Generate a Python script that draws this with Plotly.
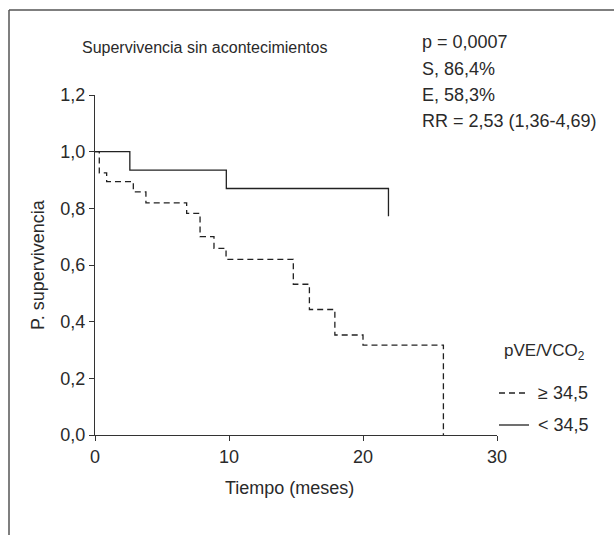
import plotly.graph_objects as go

# Data
t_low = [0, 2.6, 9.8, 21.9]                      # pVE/VCO2 < 34.5
s_low = [1.0, 0.935, 0.870, 0.772]
t_high = [0, 0.32, 0.87, 2.86, 3.8, 6.84, 7.84, 8.88, 9.78, 14.8, 16.0, 17.9, 20.0, 26.0]
s_high = [1.0, 0.925, 0.894, 0.858, 0.819, 0.782, 0.70, 0.659, 0.62, 0.532, 0.443, 0.353, 0.317, 0.0]
x_ticks = [0, 10, 20, 30]
y_ticks = [0.0, 0.2, 0.4, 0.6, 0.8, 1.0, 1.2]
y_tick_labels = ["0,0", "0,2", "0,4", "0,6", "0,8", "1,0", "1,2"]
stats_lines = ["p = 0,0007", "S, 86,4%", "E, 58,3%", "RR = 2,53 (1,36-4,69)"]

W, H = 614, 535
L, R, T, B = 95, 117, 95, 100
PW, PH = W - L - R, H - T - B
FONT = "Liberation Sans Narrow, Arial Narrow, Liberation Sans, Arial, sans-serif"
TC = "#2a2a2a"
LC = "#333333"

def px(x):
    return (x - L) / PW

def py(y):
    return (H - B - y) / PH

fig = go.Figure()
fig.add_trace(go.Scatter(x=t_high, y=s_high, mode="lines", line_shape="hv",
                         line=dict(color="#222", width=1.3, dash="6px,4px"),
                         showlegend=False, hoverinfo="skip"))
fig.add_trace(go.Scatter(x=t_low, y=s_low, mode="lines", line_shape="hv",
                         line=dict(color="#222", width=1.3),
                         showlegend=False, hoverinfo="skip"))

shapes = []
# outer frame (left and top only)
shapes.append(dict(type="line", xref="paper", yref="paper", x0=px(9), x1=px(9), y0=py(540), y1=py(10),
                   line=dict(color="#555", width=1.5)))
shapes.append(dict(type="line", xref="paper", yref="paper", x0=px(9), x1=px(620), y0=py(10), y1=py(10),
                   line=dict(color="#555", width=1.5)))
# legend samples
shapes.append(dict(type="line", xref="paper", yref="paper", x0=px(499), x1=px(529), y0=py(393), y1=py(393),
                   line=dict(color="#222", width=1.3, dash="6px,4px")))
shapes.append(dict(type="line", xref="paper", yref="paper", x0=px(499), x1=px(529), y0=py(425), y1=py(425),
                   line=dict(color="#222", width=1.3)))

annotations = []
annotations.append(dict(text="Supervivencia sin acontecimientos", xref="paper", yref="paper",
                        x=px(80), y=py(47), xanchor="left", yanchor="middle", showarrow=False,
                        font=dict(family=FONT, size=16, color=TC)))
for i, s in enumerate(stats_lines):
    annotations.append(dict(text=s, xref="paper", yref="paper", x=px(420), y=py(42 + 26.5 * i),
                            xanchor="left", yanchor="middle", showarrow=False,
                            font=dict(family=FONT, size=18, color=TC)))
annotations.append(dict(text="pVE/VCO<sub>2</sub>", xref="paper", yref="paper", x=px(502), y=py(352),
                        xanchor="left", yanchor="middle", showarrow=False,
                        font=dict(family=FONT, size=17, color=TC)))
annotations.append(dict(text="≥ 34,5", xref="paper", yref="paper", x=px(536), y=py(393),
                        xanchor="left", yanchor="middle", showarrow=False,
                        font=dict(family=FONT, size=18, color=TC)))
annotations.append(dict(text="< 34,5", xref="paper", yref="paper", x=px(536), y=py(425),
                        xanchor="left", yanchor="middle", showarrow=False,
                        font=dict(family=FONT, size=18, color=TC)))
annotations.append(dict(text="Tiempo (meses)", xref="paper", yref="paper", x=px(289), y=py(488),
                        xanchor="center", yanchor="middle", showarrow=False,
                        font=dict(family=FONT, size=18, color=TC)))
annotations.append(dict(text="P. supervivencia", xref="paper", yref="paper", x=px(38), y=py(265),
                        xanchor="center", yanchor="middle", showarrow=False, textangle=-90,
                        font=dict(family=FONT, size=18, color=TC)))

fig.update_layout(
    width=W, height=H,
    margin=dict(l=L, r=R, t=T, b=B, pad=0),
    paper_bgcolor="white", plot_bgcolor="white",
    shapes=shapes, annotations=annotations,
    xaxis=dict(range=[0, 30], tickvals=x_ticks, showline=True, linecolor=LC, linewidth=1.3,
               ticks="outside", ticklen=5, tickcolor=LC, showgrid=False, zeroline=False,
               tickfont=dict(family=FONT, size=18, color=TC)),
    yaxis=dict(range=[0, 1.2], tickvals=y_ticks, ticktext=y_tick_labels, showline=True, linecolor=LC,
               linewidth=1.3, ticks="outside", ticklen=5, tickcolor=LC, showgrid=False, zeroline=False,
               tickfont=dict(family=FONT, size=18, color=TC)),
)

fig.write_html("out.html")
